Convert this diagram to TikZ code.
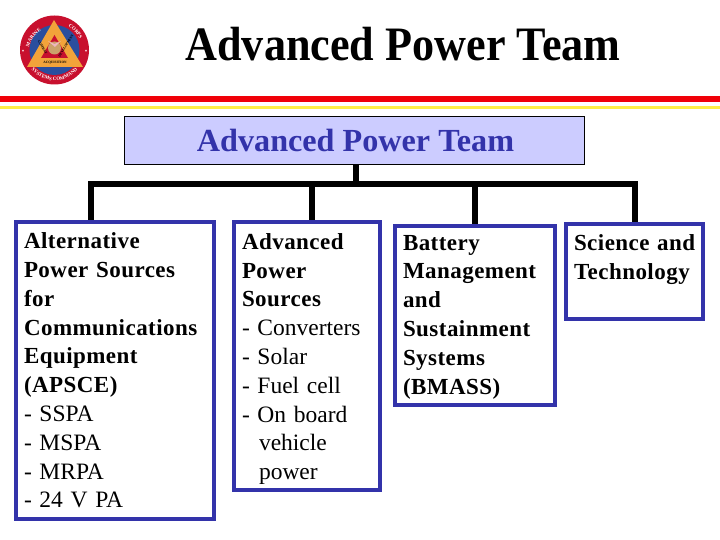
\documentclass[tikz,border=0pt]{standalone}
\usepackage{fontspec}
\setmainfont{Liberation Serif}
\newfontfamily\bodyface[LetterSpace=2]{Liberation Serif}
\newcommand{\itemface}{\normalfont\mdseries\fontsize{23.5}{28.8}\selectfont}
\usetikzlibrary{decorations.text}
\definecolor{teamblue}{HTML}{3333AA}
\definecolor{rootfill}{HTML}{CCCCFF}
\definecolor{barred}{HTML}{F00008}
\definecolor{baryellow}{HTML}{FFEE44}
\definecolor{logored}{HTML}{C8102E}
\definecolor{logoblue}{HTML}{2A4E9E}
\definecolor{logoorange}{HTML}{F2A33A}
\tikzset{
  x=1pt,y=-1pt,
  rootbox/.style={draw=black,fill=rootfill,line width=1pt,minimum width=460pt,minimum height=48pt,inner sep=0pt,font=\fontsize{32.2}{36}\selectfont\bfseries,text=teamblue},
  teambox/.style={draw=teamblue,fill=white,line width=4pt,inner xsep=0pt,inner ysep=0pt,align=left,font=\bodyface\fontsize{23}{28.8}\selectfont\bfseries},
  link/.style={draw=black,line width=6pt},
  titletext/.style={font=\fontsize{48}{54}\selectfont\bfseries,text=black,xscale=.92},
  logotext/.style={text=white,font=\bfseries\fontsize{5}{5}\selectfont},
  logoinner/.style={text=black,font=\bfseries\fontsize{3.4}{4}\selectfont,inner sep=0pt}
}
\begin{document}
\begin{tikzpicture}
\useasboundingbox (0,0) rectangle (720,540);
\fill[white] (0,0) rectangle (720,540);
% logo
\fill[logored] (54.5,50) circle (34.5);
\fill[logoblue] (54.5,50) circle (25);
\fill[logoorange] (54,20) -- (83,67) -- (27,67) -- cycle;
\fill[logored] (54.5,35) -- (68,58) -- (41,58) -- cycle;
\fill[black!25!logoorange!70!white] (54.5,48) circle (6.5);
\fill[white!70!logored] (48,41) -- (54.5,44) -- (61,41) -- (55,47) -- cycle;
\path[decorate,decoration={text along path,text align=center,text={|\bfseries\fontsize{5}{5}\selectfont\color{white}|MARINE}}] (28,52) arc[start angle=185,end angle=250,radius=27];
\path[decorate,decoration={text along path,text align=center,text={|\bfseries\fontsize{5}{5}\selectfont\color{white}|CORPS}}] (62,24) arc[start angle=285,end angle=350,radius=27];
\path[decorate,decoration={text along path,text align=center,text={|\bfseries\fontsize{5}{5}\selectfont\color{white}|SYSTEMS COMMAND}}] (24,50) arc[start angle=180,end angle=0,radius=30.5];
\node[logotext,inner sep=0pt] (stara) at (23,52) {*};
\node[logotext,inner sep=0pt] (starb) at (86,52) {*};
\node[logoinner] (acq) at (55,62.5) {ACQUISITION};
\node[logoinner,rotate=59] (dev) at (66,46) {DEVELOPMENT};
\node[logoinner,rotate=-59] (com) at (42.5,47) {COMBAT};
% bars
\fill[barred] (0,96) rectangle (720,102);
\fill[baryellow] (0,106) rectangle (720,109.5);
% title
\node[titletext] (title) at (403,44) {Advanced Power Team};
% coordinates of the tree
\coordinate (busl) at (88,184);
\coordinate (busr) at (637.5,184);
\coordinate (bus0) at (356,184);
\coordinate (bus1) at (91,184);
\coordinate (bus2) at (312,184);
\coordinate (bus3) at (475,184);
\coordinate (bus4) at (635,184);
% boxes
\node[rootbox] (root) at (354.5,140.5) {\hspace*{2pt}Advanced Power Team};
\node[teambox,minimum width=198pt,minimum height=297pt,text width=182pt] (a) at (115,370.5) {Alternative\\Power Sources\\for\\Communications\\Equipment\\(APSCE)\\\itemface - SSPA\\- MSPA\\- MRPA\\- 24 V PA};
\node[teambox,minimum width=146pt,minimum height=268pt,text width=130pt] (b) at (307,356) {\rule{0pt}{22pt}Advanced\\Power\\Sources\\\itemface - Converters\\- Solar\\- Fuel cell\\- On board\\\hspace*{17pt}vehicle\\\hspace*{17pt}power};
\node[teambox,minimum width=160pt,minimum height=179pt,text width=144pt] (c) at (475,315.5) {\rule{0pt}{18pt}Battery\\Management\\and\\Sustainment\\Systems\\(BMASS)};
\node[teambox,minimum width=137pt,minimum height=95pt,text width=121pt] (d) at (634.5,271.5) {\mbox{Science and}\\Technology\\\mbox{}};
% connectors
\draw[link] (root.south -| bus0) -- (bus0);
\draw[link] (busl) -- (busr);
\draw[link] (bus1) -- (bus1 |- a.north);
\draw[link] (bus2) -- (bus2 |- b.north);
\draw[link] (bus3) -- (bus3 |- c.north);
\draw[link] (bus4) -- (bus4 |- d.north);
\end{tikzpicture}
\end{document}
